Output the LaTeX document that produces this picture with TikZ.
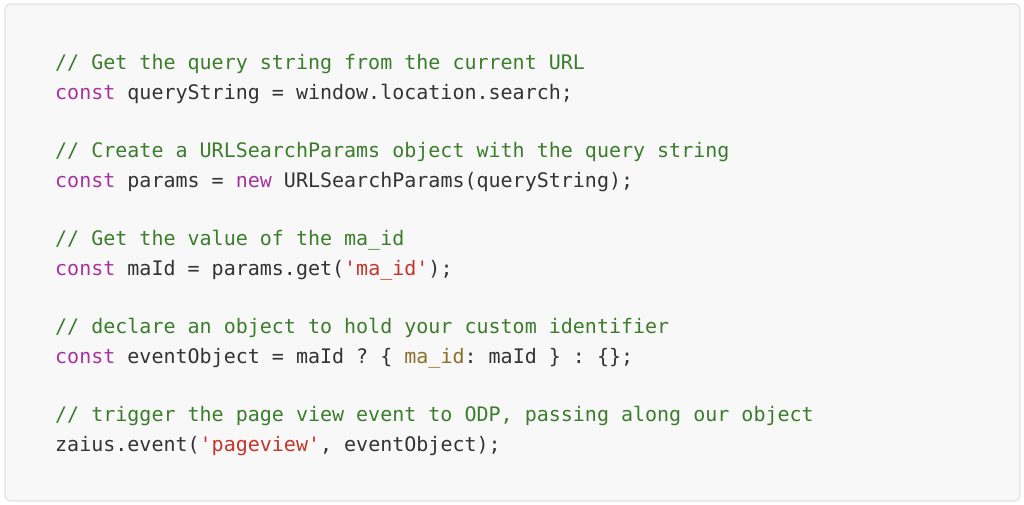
\documentclass[tikz,border=0pt]{standalone}
\usepackage{fontspec}
\newfontfamily\codefont{DejaVu Sans Mono}[Ligatures=NoCommon]
\definecolor{bgbox}{HTML}{F8F8F8}
\definecolor{bdbox}{HTML}{E2E2E2}
\definecolor{cmt}{HTML}{3B7D2C}
\definecolor{kw}{HTML}{A8329E}
\definecolor{str}{HTML}{C4352B}
\definecolor{prop}{HTML}{8C6F2D}
\definecolor{txt}{HTML}{333333}
\newcommand\sq{\char"0027\relax}
\newcommand\kwd[1]{\textcolor{kw}{#1}}
\newcommand\strg[1]{\textcolor{str}{#1}}
\newcommand\prp[1]{\textcolor{prop}{#1}}
\frenchspacing
\begin{document}
\begin{tikzpicture}[x=1bp,y=-1bp,
  codeline/.style={anchor=base west,inner sep=0pt,text=txt,font=\codefont\fontsize{20bp}{20bp}\selectfont\frenchspacing},
  comment/.style={codeline,text=cmt}]
\useasboundingbox (0,0) rectangle (1024,505);
\fill[white] (0,0) rectangle (1024,505);
\draw[bdbox,fill=bgbox,line width=1.2bp,rounded corners=6bp] (5,4) rectangle (1020,501);
\def\lh{29.33}
\node[comment] (l0) at (55,70) {// Get the query string from the current URL};
\node[codeline] (l1) at (55,70+1*\lh) {\kwd{const} queryString = window.location.search;};
\node[comment] (l3) at (55,70+3*\lh) {// Create a URLSearchParams object with the query string};
\node[codeline] (l4) at (55,70+4*\lh) {\kwd{const} params = \kwd{new} URLSearchParams(queryString);};
\node[comment] (l6) at (55,70+6*\lh) {// Get the value of the ma\_id};
\node[codeline] (l7) at (55,70+7*\lh) {\kwd{const} maId = params.get(\strg{\sq{}ma\_id\sq{}});};
\node[comment] (l9) at (55,70+9*\lh) {// declare an object to hold your custom identifier};
\node[codeline] (l10) at (55,70+10*\lh) {\kwd{const} eventObject = maId ? \{ \prp{ma\_id}: maId \} : \{\};};
\node[comment] (l12) at (55,70+12*\lh) {// trigger the page view event to ODP, passing along our object};
\node[codeline] (l13) at (55,70+13*\lh) {zaius.event(\strg{\sq{}pageview\sq{}}, eventObject);};
\end{tikzpicture}
\end{document}
